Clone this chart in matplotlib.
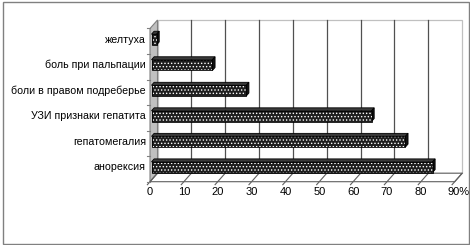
import matplotlib
matplotlib.use('Agg')
import matplotlib.pyplot as plt
from matplotlib.patches import Polygon, Rectangle
import numpy as np

categories = ['анорексия', 'гепатомегалия', 'УЗИ признаки гепатита',
              'боли в правом подреберье', 'боль при пальпации', 'желтуха']
values = [83, 75, 65, 28, 18, 1.5]
x_ticks = [0, 10, 20, 30, 40, 50, 60, 70, 80, 90]
x_tick_labels = ['0', '10', '20', '30', '40', '50', '60', '70', '80', '90%']

plt.rcParams['font.family'] = ['Liberation Sans', 'DejaVu Sans']
plt.rcParams['hatch.linewidth'] = 0.6

W, H = 470, 245
fig = plt.figure(figsize=(W / 100, H / 100), dpi=100)
px_left, px_right = 150.0, 454.7
px_top, px_bottom = 28.5, 181.7
ax = fig.add_axes([px_left / W, 1 - px_bottom / H,
                   (px_right - px_left) / W, (px_bottom - px_top) / H])
ax.set_xlim(0, 90)
ax.set_ylim(-0.5, 5.5)
ax.axis('off')

ux = (px_right - px_left) / 90.0
uy = (px_bottom - px_top) / 6.0
DX = 7.5 / ux
DY = 8.5 / uy
n = len(categories)
y0, y1 = -0.5, n - 0.5

# back wall
ax.add_patch(Rectangle((DX, y0 + DY), 90, n, fc='white', ec='#c0c0c0', lw=0.9,
                       clip_on=False, zorder=1))
for v in x_ticks[1:-1]:
    ax.plot([v + DX, v + DX], [y0 + DY, y1 + DY], color='#505050', lw=0.9,
            clip_on=False, zorder=2)

# side wall
ax.add_patch(Polygon([(0, y0), (0, y1), (DX, y1 + DY), (DX, y0 + DY)],
                     closed=True, fc='#c0c0c0', ec='#808080', lw=0.8,
                     clip_on=False, zorder=2))
# floor
ax.add_patch(Polygon([(0, y0), (90, y0), (90 + DX, y0 + DY), (DX, y0 + DY)],
                     closed=True, fc='white', ec='#606060', lw=0.8,
                     clip_on=False, zorder=2))
for v in x_ticks:
    ax.plot([v - 0.35 * DX, v + DX], [y0 - 0.35 * DY, y0 + DY], color='#606060',
            lw=0.8, clip_on=False, zorder=2)

# category tick marks on side wall edge
for k in range(n + 1):
    ax.plot([-3 / ux, 0], [k - 0.5, k - 0.5], color='#808080', lw=0.8,
            clip_on=False, zorder=2)

# bars
f0, f1 = 0.2, 0.55
h = 0.42
ypos = np.arange(n) + f0 * DY
for i, v in enumerate(values):
    yc = ypos[i]
    top = [(f0 * DX, yc + h / 2), (v + f0 * DX, yc + h / 2),
           (v + f1 * DX, yc + h / 2 + (f1 - f0) * DY), (f1 * DX, yc + h / 2 + (f1 - f0) * DY)]
    side = [(v + f0 * DX, yc - h / 2), (v + f0 * DX, yc + h / 2),
            (v + f1 * DX, yc + h / 2 + (f1 - f0) * DY), (v + f1 * DX, yc - h / 2 + (f1 - f0) * DY)]
    ax.add_patch(Polygon(top, closed=True, fc='#3a3a3a', ec='black', lw=0.6,
                         clip_on=False, zorder=3))
    ax.add_patch(Polygon(side, closed=True, fc='#111111', ec='black', lw=0.6,
                         clip_on=False, zorder=3))
ax.barh(ypos, values, height=h, left=f0 * DX, color='#1e1e1e', edgecolor='white',
        hatch='.....', lw=0, zorder=4, clip_on=False)
ax.barh(ypos, values, height=h, left=f0 * DX, fill=False, edgecolor='black',
        lw=0.6, zorder=5, clip_on=False)

# category labels
for i, c in enumerate(categories):
    ax.text(-4 / ux, ypos[i], c, ha='right', va='center', fontsize=7.7,
            color='black', clip_on=False)

# x tick labels
ly = y0 - 10.0 / uy
for v, t in zip(x_ticks, x_tick_labels):
    xo = v + (3.5 / ux if t.endswith('%') else 0)
    ax.text(xo, ly, t, ha='center', va='center', fontsize=8, color='black',
            clip_on=False)

# chart frame
fig.add_artist(Rectangle((3.0 / W, 1.5 / H), 465.5 / W, 241.5 / H,
                         transform=fig.transFigure, fill=False,
                         ec='#808080', lw=1.0))

fig.savefig('out.png', dpi=100, facecolor='white')
